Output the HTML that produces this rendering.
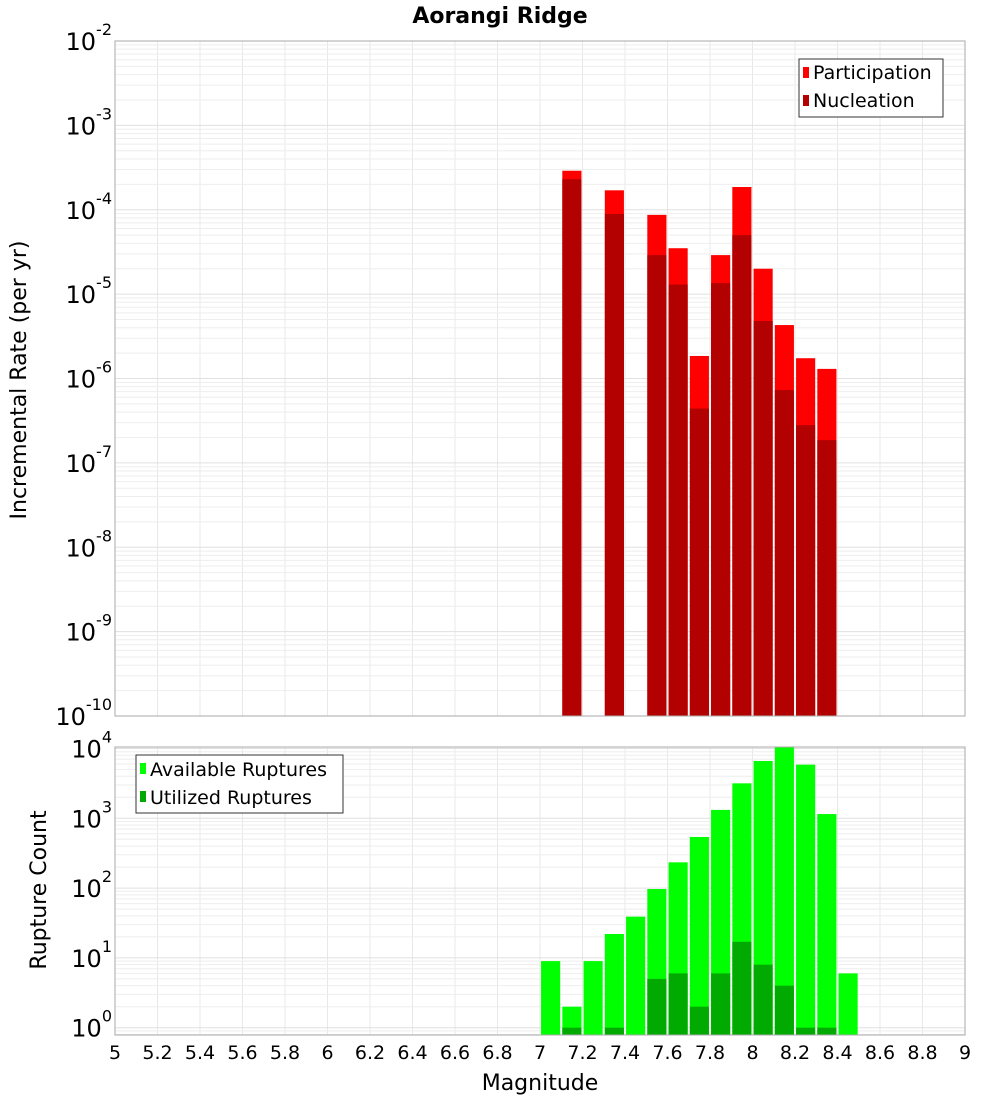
<!DOCTYPE html>
<html><head><meta charset="utf-8"><style>
body{margin:0;background:#fff;}
svg text{font-family:"DejaVu Sans","Liberation Sans",sans-serif;}
</style></head><body>
<svg id="chart" width="1000" height="1100" xmlns="http://www.w3.org/2000/svg">
<text x="500" y="23" text-anchor="middle" font-size="22" font-weight="bold">Aorangi Ridge</text>
<g id="topPlot"></g>
<g id="botPlot"></g>
<text transform="translate(26,380) rotate(-90)" text-anchor="middle" font-size="22">Incremental Rate (per yr)</text>
<text transform="translate(46,890) rotate(-90)" text-anchor="middle" font-size="22">Rupture Count</text>
<text x="540" y="1090" text-anchor="middle" font-size="22">Magnitude</text>
<g>
<rect x="799" y="59" width="144" height="58" fill="#fff" stroke="#333"/>
<rect x="803" y="67" width="6" height="11" fill="#ff0000"/>
<text x="813" y="79" font-size="19">Participation</text>
<rect x="803" y="95" width="6" height="11" fill="#b30000"/>
<text x="813" y="107" font-size="19">Nucleation</text>
</g>
<g>
<rect x="136" y="755" width="207" height="58" fill="#fff" stroke="#333"/>
<rect x="140" y="763" width="6" height="11" fill="#00ff00"/>
<text x="150" y="776" font-size="19">Available Ruptures</text>
<rect x="140" y="791" width="6" height="11" fill="#00aa00"/>
<text x="150" y="804" font-size="19">Utilized Ruptures</text>
</g>
</svg>
<script>
const rateMags=[7.15,7.35,7.55,7.65,7.75,7.85,7.95,8.05,8.15,8.25,8.35];
const participation=[2.9e-4,1.7e-4,8.7e-5,3.5e-5,1.85e-6,2.9e-5,1.86e-4,2.0e-5,4.3e-6,1.74e-6,1.3e-6];
const nucleation=[2.3e-4,8.9e-5,2.9e-5,1.3e-5,4.4e-7,1.35e-5,5.0e-5,4.8e-6,7.3e-7,2.8e-7,1.86e-7];
const countMags=[7.05,7.15,7.25,7.35,7.45,7.55,7.65,7.75,7.85,7.95,8.05,8.15,8.25,8.35,8.45];
const available=[9,2,9,22,39,97,234,540,1320,3170,6620,10400,5870,1150,6];
const utilized=[0,1,0,1,0,5,6,2,6,17,8,4,1,1,0];
const xTicks=[5,5.2,5.4,5.6,5.8,6,6.2,6.4,6.6,6.8,7,7.2,7.4,7.6,7.8,8,8.2,8.4,8.6,8.8,9];
const rateExps=[-10,-9,-8,-7,-6,-5,-4,-3,-2];
const countExps=[0,1,2,3,4];

const NS='http://www.w3.org/2000/svg';
const X0=115,X1=965;
const xs=m=>X0+(m-5)/4*(X1-X0);
const TT=41,TB=716;
const yTop=v=>TB-(Math.log10(v)+10)/8*(TB-TT);
const BT=747,BB=1035,C0=1027.7,CD=69.8;
const yBot=v=>C0-CD*Math.log10(v);
function el(p,t,a){const e=document.createElementNS(NS,t);for(const k in a)e.setAttribute(k,a[k]);p.appendChild(e);return e;}
const gTop=document.getElementById('topPlot'),gBot=document.getElementById('botPlot');

function grid(g,y0,y1,yf,exps,lo){
  el(g,'rect',{x:X0,y:y0,width:X1-X0,height:y1-y0,fill:'#fff'});
  xTicks.forEach(t=>{el(g,'line',{x1:xs(t),x2:xs(t),y1:y0,y2:y1,stroke:'#e8e8e8'});});
  for(let e=lo;e<=exps[exps.length-1];e++){for(let k=1;k<10;k++){const y=yf(k*Math.pow(10,e));if(y>=y0&&y<=y1)el(g,'line',{x1:X0,x2:X1,y1:y,y2:y,stroke:k==1?'#e0e0e0':'#eeeeee'});}}
}
grid(gTop,TT,TB,yTop,rateExps,-10);
grid(gBot,BT,BB,yBot,countExps,-1);

const W=0.09*(X1-X0)/4;
rateMags.forEach((m,i)=>{
  const r=el(gTop,'rect',{x:xs(m)-W/2,y:yTop(participation[i]),width:W,height:TB-yTop(participation[i]),fill:'#ff0000'});
  
  
  const n=el(gTop,'rect',{x:xs(m)-W/2,y:yTop(nucleation[i]),width:W,height:TB-yTop(nucleation[i]),fill:'#b30000'});
  
  
});
countMags.forEach((m,i)=>{
  const a=el(gBot,'rect',{x:xs(m)-W/2,y:yBot(available[i]),width:W,height:BB-yBot(available[i]),fill:'#00ff00'});
  
  
  if(utilized[i]>0){
    const u=el(gBot,'rect',{x:xs(m)-W/2,y:yBot(utilized[i]),width:W,height:BB-yBot(utilized[i]),fill:'#00aa00'});
    
    
  }
});
el(gTop,'rect',{x:X0,y:TT,width:X1-X0,height:TB-TT,fill:'none',stroke:'#aaa'});
el(gBot,'rect',{x:X0,y:BT,width:X1-X0,height:BB-BT,fill:'none',stroke:'#aaa'});

function ylab(g,y,e){
  const t=el(g,'text',{x:112,y:y+9,'text-anchor':'end','font-size':'24'});
  
  
  const a=document.createElementNS(NS,'tspan');a.textContent='10';t.appendChild(a);
  const b=document.createElementNS(NS,'tspan');b.setAttribute('dy','-15');b.setAttribute('font-size','16');b.textContent=String(e);t.appendChild(b);
}
rateExps.forEach(e=>ylab(gTop,yTop(Math.pow(10,e)),e));
countExps.forEach(e=>ylab(gBot,yBot(Math.pow(10,e)),e));
xTicks.forEach(t=>{
  const tx=el(gBot,'text',{x:xs(t),y:1059,'text-anchor':'middle','font-size':'19'});
  
  
  tx.textContent=String(t);
});
</script>
</body></html>
